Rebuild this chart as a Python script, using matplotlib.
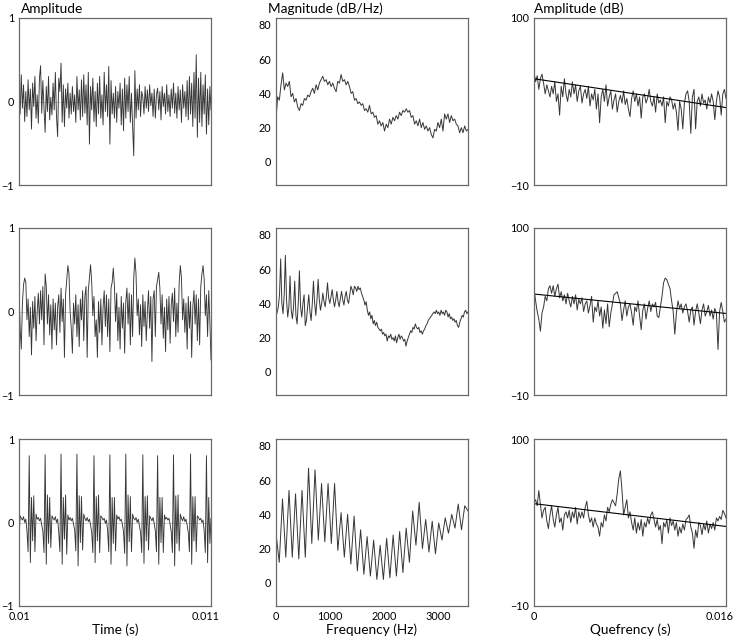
import matplotlib
matplotlib.use("Agg")
import matplotlib.pyplot as plt
import matplotlib.transforms as mtransforms
import numpy as np

plt.rcParams['font.family'] = ['Lato', 'DejaVu Sans']
plt.rcParams['font.size'] = 9.8
plt.rcParams['xtick.labelsize'] = 7.8
plt.rcParams['ytick.labelsize'] = 7.8

# waveforms (amplitude x100), 0.01 .. 0.011 s
noise_wave = [
    10, -15, 32, -8, 20, -24, 12, -18, 26, -10,
    15, -33, 22, -6, 30, -20, 8, -26, 28, 43,
    -14, 25, -8, -37, 18, -12, 30, -22, 5, -16,
    22, -10, 35, -18, -42, 28, 12, 46, -25, 20,
    -30, 15, -8, 22, -20, 10, -15, 18, -12, 8,
    -25, 30, -10, 14, -22, 26, -18, 32, -14, 20,
    -28, 35, -51, 18, -10, 28, -24, 12, -30, 22,
    -15, 30, -20, 8, -28, 35, -12, 20, -18, 42,
    -51, 25, -15, 10, -20, 18, -25, 12, -8, 22,
    -28, 15, -35, 28, -20, 20, -12, 30, -25, 10,
    -30, -65, 37, -20, 15, -10, 20, -18, 12, 5,
    -15, 18, -8, 14, -12, 20, -5, 10, -18, 15,
    -20, 8, 16, -10, 12, -22, 18, -6, 10, -15,
    20, -12, 8, -18, 15, -8, 22, -14, 10, -20,
    18, -10, 14, -25, 20, -8, 12, -18, 25, -22,
    30, -15, 22, -30, 35, -20, 56, -43, 28, -25,
    35, -30, 20, -15, 32, -39, 15, -28, 18, -10,
]
vowel_wave = [
    28, -20, -45, 10, 32, 40,
    35, -10, 15, -30, 5, -52, 12, -20, 18, -35, 0, 22, -15, 25, -10, 30, -40, 45,
    30, -15, 20, -28, 8, -45, 15, -22, 10, -40, 5, 20, -25, 28, -12, 15, -55, 20, 38, 55,
    45, 0, -20, -50, 10, -15, 20, -30, 8, -42, 15, -10, 25, -35, 18, 30, -55, 25, 40, 56,
    35, -5, 18, -30, -10, -55, 12, -25, 15, -40, 5, 25, -18, 20, -30, 15, -48, 28, 35, 52,
    30, -12, 22, -35, 5, -45, 18, -20, 10, -50, 12, 28, -15, 22, -40, 20, -30, 40, 64,
    45, -5, 15, -28, 8, -42, 20, -18, 12, -35, 0, 25, -20, 18, -60, 15, 25, -30, 30, 38, 47,
    28, -15, 20, -32, 5, -48, 15, -22, 18, -38, 8, 22, -12, 28, -30, 10, -25, 35, 55,
    40, -10, 15, -25, 10, -45, 18, -20, 12, -55, 5, 25, -15, 20, -35, 15, -40, 30, 45, 55,
    38, -5, 20, -30, 25, -12, -58,
]
pulse_wave = [
    -20, 8, 5, 3, 7, 0, 4, -10, -35,
    80, -48, 30, -22, 32, -35, 10, 4, 6, 2, 5, -3, -10, -36,
    81, -50, 33, -25, 30, -30, 8, 5, 3, 7, 0, 4, -12, -35,
    82, -50, 30, -20, 33, -38, 9, 3, 6, 2, 5, -2, -9, -34,
    82, -52, 32, -24, 31, -33, 10, 5, 2, 6, 1, 4, -3, -12, -36,
    80, -48, 31, -22, 33, -36, 8, 6, 3, 5, -1, 3, -10, -35,
    81, -50, 30, -25, 30, -34, 9, 4, 7, 2, 4, -2, -11, -37,
    82, -52, 33, -23, 31, -35, 10, 5, 3, 6, 0, 4, -4, -12, -36,
    81, -49, 31, -22, 32, -33, 8, 5, 2, 6, -1, -10, -35,
    80, -50, 30, -24, 30, -36, 9, 4, 6, 3, 5, -2, -11, -36,
    81, -52, 32, -25, 33, -34, 10, 5, 2, 7, 1, 4, -3, -12, -35,
    82, -50, 31, -22, 31, -35, 8, 6, 3, 5, 0, 3, -10, -36,
    80, -48, 30, -25, 5,
]

# spectra (dB/Hz), 0 .. 3550 Hz
noise_spec = [
    25, 38, 36, 45, 52, 42, 46, 44, 47, 38, 40, 35, 37, 32, 30, 34, 33, 37, 36, 39,
    38, 41, 43, 40, 45, 42, 46, 48, 50, 47, 48, 45, 47, 44, 46, 43, 41, 47, 46, 51,
    47, 48, 45, 47, 44, 40, 41, 36, 37, 34, 35, 33, 34, 30, 31, 29, 33, 28, 29, 26,
    27, 22, 24, 21, 23, 18, 22, 20, 25, 22, 26, 24, 27, 25, 29, 27, 30, 29, 31, 29,
    30, 26, 27, 22, 24, 21, 25, 20, 23, 19, 21, 18, 20, 16, 14, 19, 18, 23, 20, 25,
    18, 28, 25, 28, 23, 27, 24, 25, 22, 21, 17, 20, 17, 21, 18, 19,
]
vowel_spec = [
    32, 35, 38, 45, 66, 40, 34, 45, 68, 42, 32, 38, 56, 36, 31, 38, 53, 33, 28, 40,
    59, 38, 32, 40, 45, 27, 30, 38, 45, 35, 30, 40, 53, 40, 33, 42, 54, 42, 36, 40,
    46, 41, 38, 44, 52, 43, 40, 44, 48, 42, 38, 42, 47, 41, 38, 43, 47, 42, 39, 44,
    47, 42, 40, 45, 50, 48, 45, 50, 49, 47, 50, 48, 49, 46, 44, 42, 39, 41, 36, 33,
    35, 31, 33, 28, 30, 27, 29, 26, 25, 24, 25, 22, 23, 21, 22, 18, 21, 20, 22, 19,
    20, 18, 21, 17, 20, 22, 19, 21, 20, 18, 19, 15, 18, 20, 22, 24, 23, 26, 25, 28,
    26, 25, 26, 23, 24, 22, 24, 25, 27, 28, 30, 31, 32, 33, 34, 35, 34, 36, 34, 35,
    33, 36, 34, 35, 33, 36, 35, 32, 34, 31, 32, 30, 31, 29, 30, 27, 26, 29, 31, 33,
    32, 35, 36, 34, 35,
]
pulse_spec = [
    29, 12, 49, 15, 54, 15, 52, 14, 54, 15, 67, 23, 66, 25, 58, 24, 58, 23, 58, 19,
    41, 15, 40, 11, 39, 7, 31, 5, 27, 4, 25, 2, 22, 2, 26, 3, 28, 4, 30, 6,
    32, 12, 42, 22, 47, 20, 37, 18, 36, 17, 35, 25, 38, 29, 40, 32, 46, 31, 45, 42,
]

# cepstra (dB), 0 .. 0.016 s, with fitted trend end values
noise_ceps = [
    64, 58, 62, 53, 60, 63, 57, 50, 56, 52,
    48, 55, 50, 58, 45, 50, 36, 55, 48, 60,
    50, 45, 53, 48, 58, 50, 56, 45, 52, 55,
    44, 50, 53, 47, 55, 42, 50, 46, 53, 40,
    50, 31, 48, 53, 45, 56, 42, 48, 52, 40,
    46, 50, 38, 45, 49, 44, 52, 43, 47, 40,
    35, 47, 52, 45, 50, 42, 48, 34, 48, 50,
    44, 47, 53, 45, 42, 48, 38, 50, 44, 46,
    42, 48, 31, 45, 42, 48, 46, 40, 44, 38,
    26, 45, 40, 27, 44, 50, 52, 45, 24, 48,
    53, 27, 45, 48, 42, 50, 44, 46, 40, 48,
    44, 50, 45, 33, 45, 52, 48, 36, 50, 53,
    47,
]
vowel_ceps = [
    60, 52, 45, 40, 32, 44, 48, 55, 52, 60,
    62, 57, 62, 55, 60, 63, 54, 58, 52, 56,
    50, 57, 52, 48, 55, 50, 56, 46, 53, 50,
    54, 45, 50, 52, 44, 49, 55, 38, 48, 45,
    52, 42, 48, 34, 46, 37, 50, 35, 44, 50,
    56, 57, 58, 54, 50, 39, 46, 52, 42, 48,
    50, 44, 36, 48, 45, 52, 42, 33, 46, 50,
    40, 47, 52, 45, 50, 48, 51, 42, 41, 48,
    55, 64, 67, 66, 63, 60, 52, 45, 30, 44,
    52, 47, 50, 44, 48, 50, 45, 38, 46, 48,
    36, 45, 50, 44, 37, 46, 50, 42, 45, 49,
    42, 46, 40, 47, 44, 20, 45, 51, 45, 38,
    40,
]
pulse_ceps = [
    58, 60, 56, 66, 57, 48, 53, 55, 46, 41,
    50, 56, 47, 42, 50, 55, 45, 48, 40, 50,
    52, 48, 53, 45, 52, 48, 55, 44, 52, 48,
    52, 48, 55, 59, 50, 45, 48, 42, 48, 44,
    42, 36, 45, 42, 50, 46, 55, 52, 57, 60,
    58, 56, 64, 74, 79, 66, 50, 55, 60, 48,
    52, 45, 40, 48, 38, 45, 40, 47, 36, 45,
    42, 48, 44, 50, 52, 47, 42, 47, 40, 43,
    31, 45, 42, 47, 38, 48, 43, 46, 40, 45,
    36, 42, 38, 44, 40, 47, 48, 50, 42, 38,
    28, 40, 35, 45, 43, 37, 44, 40, 46, 38,
    44, 41, 45, 40, 48, 46, 49, 47, 53, 51,
    48,
]
noise_trend = [60, 41]
vowel_trend = [56.5, 43.7]
pulse_trend = [57.4, 42.4]

waves = [noise_wave, vowel_wave, pulse_wave]
specs = [noise_spec, vowel_spec, pulse_spec]
cepss = [noise_ceps, vowel_ceps, pulse_ceps]
trends = [noise_trend, vowel_trend, pulse_trend]

W, H = 736, 638
lefts = [19, 276, 534]
tops = [18, 228, 439]
aw, ah = 192, 167
trace = "#363636"
frame = "#6a6a6a"

fig = plt.figure(figsize=(W / 100, H / 100), dpi=100)

def make_ax(col, row):
    ax = fig.add_axes([lefts[col] / W, 1 - (tops[row] + ah) / H, aw / W, ah / H])
    for s in ax.spines.values():
        s.set_color(frame)
        s.set_linewidth(0.9)
    ax.tick_params(length=0, pad=3.5, colors="black")
    return ax

def nudge_last_xlabel(ax, px):
    # move the right-hand tick label a few pixels left, like the original
    lab = ax.get_xticklabels()[-1]
    lab.set_transform(lab.get_transform() + mtransforms.ScaledTranslation(px / 100, 0, fig.dpi_scale_trans))

for row in range(3):
    # waveform
    ax = make_ax(0, row)
    w = np.array(waves[row]) / 100.0
    t = np.linspace(0.01, 0.011, len(w))
    ax.axhline(0, color="#d0d0d0", lw=0.7, zorder=1)
    ax.plot(t, w, color=trace, lw=0.65, zorder=2)
    ax.set_xlim(0.01, 0.011)
    ax.set_ylim(-1, 1)
    ax.set_yticks([-1, 0, 1], ["\u22121", "0", "1"])
    if row == 2:
        ax.set_xticks([0.01, 0.011], ["0.01", "0.011"])
        ax.set_xlabel("Time (s)", labelpad=1)
        nudge_last_xlabel(ax, -5)
    else:
        ax.set_xticks([])

    # spectrum
    ax = make_ax(1, row)
    sp = np.array(specs[row])
    f = np.linspace(0, 3550, len(sp))
    ax.plot(f, sp, color=trace, lw=0.7)
    ax.set_xlim(0, 3550)
    ax.set_ylim(-13.5, 84)
    ax.set_yticks([0, 20, 40, 60, 80])
    if row == 2:
        ax.set_xticks([0, 1000, 2000, 3000])
        ax.set_xlabel("Frequency (Hz)", labelpad=1)
    else:
        ax.set_xticks([])

    # cepstrum
    ax = make_ax(2, row)
    c = np.array(cepss[row])
    q = np.linspace(0, 0.016, len(c))
    ax.plot(q, c, color=trace, lw=0.7)
    ax.plot([0, 0.016], trends[row], color="black", lw=0.8)
    ax.set_xlim(0, 0.016)
    ax.set_ylim(-10, 100)
    ax.set_yticks([-10, 100], ["\u221210", "100"])
    if row == 2:
        ax.set_xticks([0, 0.016], ["0", "0.016"])
        ax.set_xlabel("Quefrency (s)", labelpad=1)
        nudge_last_xlabel(ax, -6)
    else:
        ax.set_xticks([])

fig.text(21 / W, 1 - 9 / H, "Amplitude", ha="left", va="center")
fig.text(268 / W, 1 - 9 / H, "Magnitude (dB/Hz)", ha="left", va="center")
fig.text(534 / W, 1 - 9 / H, "Amplitude (dB)", ha="left", va="center")

fig.savefig("out.png", dpi=100)
